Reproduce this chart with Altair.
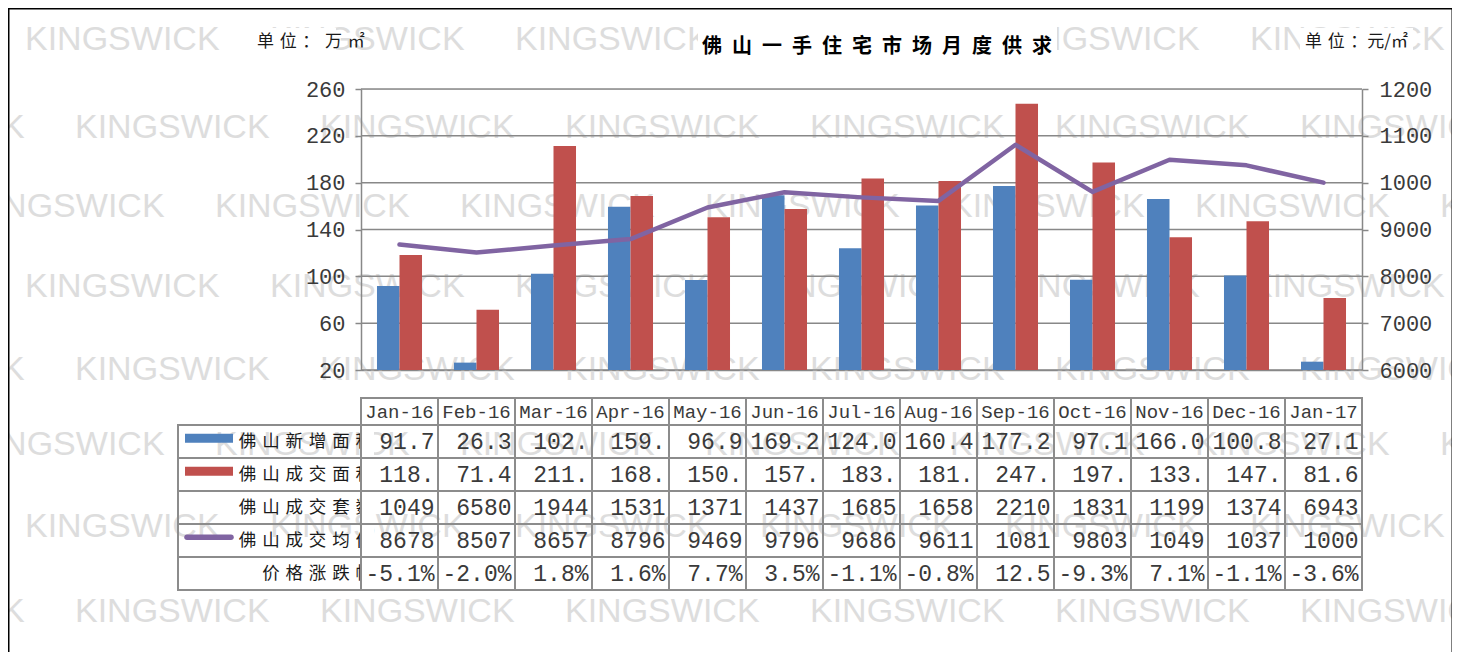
import altair as alt
import pandas as pd

# ---------------- data ----------------
months = ["Jan-16", "Feb-16", "Mar-16", "Apr-16", "May-16", "Jun-16", "Jul-16",
          "Aug-16", "Sep-16", "Oct-16", "Nov-16", "Dec-16", "Jan-17"]
new_area = [91.7, 26.3, 102.3, 159.5, 96.9, 169.2, 124.0, 160.4, 177.2, 97.1, 166.0, 100.8, 27.1]
deal_area = [118.3, 71.4, 211.3, 168.6, 150.4, 157.6, 183.5, 181.4, 247.3, 197.2, 133.4, 147.0, 81.6]
avg_price = [8678, 8507, 8657, 8796, 9469, 9796, 9686, 9611, 10810, 9803, 10490, 10370, 10000]

series_names = ["佛山新增面积", "佛山成交面积"]
row_labels = ["佛山新增面积", "佛山成交面积", "佛山成交套数", "佛山成交均价", "价格涨跌幅"]

tbl_new = ["91.7", "26.3", "102.", "159.", "96.9", "169.2", "124.0", "160.4", "177.2", "97.1", "166.0", "100.8", "27.1"]
tbl_deal = ["118.", "71.4", "211.", "168.", "150.", "157.", "183.", "181.", "247.", "197.", "133.", "147.", "81.6"]
tbl_units = ["1049", "6580", "1944", "1531", "1371", "1437", "1685", "1658", "2210", "1831", "1199", "1374", "6943"]
tbl_price = ["8678", "8507", "8657", "8796", "9469", "9796", "9686", "9611", "1081", "9803", "1049", "1037", "1000"]
tbl_change = ["-5.1%", "-2.0%", "1.8%", "1.6%", "7.7%", "3.5%", "-1.1%", "-0.8%", "12.5", "-9.3%", "7.1%", "-1.1%", "-3.6%"]

left_ticks = [20, 60, 100, 140, 180, 220, 260]
right_ticks = [6000, 7000, 8000, 9000, 10000, 11000, 12000]

title_text = "佛山一手住宅市场月度供求"
unit_left = "单位：万㎡"
unit_right = "单位：元/㎡"
watermark_text = "KINGSWICK"

# ---------------- styling / layout ----------------
BLUE, RED, PURPLE = "#4F81BD", "#C0504D", "#8064A2"
GRID, TBL, TXT, NUM = "#888888", "#8c8c8c", "#1a1a1a", "#3a3a3a"
MONO, CJK, SANS = "Liberation Mono", "Noto Sans CJK SC", "Liberation Sans"

W, H = 1001, 281
HDR_TOP, ROW_TOP, ROW_BOT = 309, 336, 501
LABEL_LEFT = -183
LABEL_RIGHT = 12

# decoration: watermark pattern (page coordinates of rows and their horizontal phase)
wm_rows_y = [40, 128, 207, 287, 370, 445, 527, 612]
wm_phase = [25, 75, -30]
wm_step = 245
ORIGIN_X, ORIGIN_Y = 361, 89


def spaced(s, sep):
    return sep.join(list(s))


rows = ["r1", "r2", "r3", "r4", "r5"]

xscale = alt.Scale(domain=months, paddingInner=0, paddingOuter=0)
xaxis = alt.Axis(labels=False, ticks=False, domain=True, domainColor=GRID,
                 domainWidth=1.5, title=None, grid=False)
X = alt.X("month:N", scale=xscale, axis=xaxis)


def rowY(band_pos=None):
    kw = {}
    if band_pos is not None:
        kw["bandPosition"] = band_pos
    return alt.Y("row:N", scale=alt.Scale(domain=rows, range=[ROW_TOP, ROW_BOT],
                                          paddingInner=0, paddingOuter=0),
                 axis=None, **kw)


# ---------------- data frames ----------------
bars_df = pd.DataFrame({
    "month": months * 2,
    "series": [series_names[0]] * len(months) + [series_names[1]] * len(months),
    "value": new_area + deal_area,
})
line_df = pd.DataFrame({"month": months, "price": avg_price})
grid_df = pd.DataFrame({"v": left_ticks})

tables = [tbl_new, tbl_deal, tbl_units, tbl_price, tbl_change]
cells_df = pd.DataFrame([
    {"month": m, "row": r, "text": t}
    for r, arr in zip(rows, tables) for m, t in zip(months, arr)
])
hdr_df = pd.DataFrame({"month": months})
labels_df = pd.DataFrame({"row": rows, "label": [spaced(s, "\u2004") for s in row_labels]})
keys_df = pd.DataFrame({"row": ["r1", "r2"], "c": [BLUE, RED]})
pkey_df = pd.DataFrame({"row": ["r4"]})

wm = []
for i, y in enumerate(wm_rows_y):
    ph = wm_phase[i % 3]
    for k in range(-1, 7):
        wm.append({"px": ph + wm_step * k - ORIGIN_X, "py": y - ORIGIN_Y, "t": watermark_text})
wm_df = pd.DataFrame(wm)
one = pd.DataFrame({"t": [0]})

# ---------------- layers ----------------
watermark = alt.Chart(wm_df).mark_text(
    font=SANS, fontSize=34, color="#dddddd", align="left", baseline="middle"
).encode(x=alt.X("px:Q", scale=None), y=alt.Y("py:Q", scale=None), text="t:N")

row_label_text = alt.Chart(labels_df).mark_text(
    font=CJK, fontSize=17.5, align="right", color=TXT
).encode(x=alt.value(LABEL_RIGHT), y=rowY(), text="label:N")

strip = alt.Chart(one).mark_rect(color="white").encode(
    x=alt.value(1), x2=alt.value(LABEL_RIGHT + 1), y=alt.value(ROW_TOP + 1), y2=alt.value(ROW_BOT - 1))

grid = alt.Chart(grid_df).mark_rule(color=GRID, strokeWidth=1.5).encode(
    y=alt.Y("v:Q", scale=alt.Scale(domain=[20, 260], nice=False, zero=False), axis=None),
    x=alt.value(0), x2=alt.value(W))

left_axis = alt.Axis(values=left_ticks, orient="left", grid=False, domain=True,
                     domainColor=GRID, domainWidth=1.5, ticks=True, tickColor=GRID,
                     tickSize=6, tickWidth=1.5, labelFont=MONO, labelFontSize=22,
                     labelColor=NUM, labelPadding=10, title=None, zindex=1)
right_axis = alt.Axis(values=right_ticks, orient="right", grid=False, domain=True,
                      domainColor=GRID, domainWidth=1.5, ticks=True, tickColor=GRID,
                      tickSize=6, tickWidth=1.5, labelFont=MONO, labelFontSize=22,
                      labelColor=NUM, labelPadding=11, title=None, format="d",
                      labelExpr="substring(datum.label, 0, 4)", zindex=1)

bars = alt.Chart(bars_df).mark_bar().encode(
    x=X,
    xOffset=alt.XOffset("series:N", scale=alt.Scale(domain=series_names,
                                                    paddingInner=0, paddingOuter=0.71)),
    y=alt.Y("value:Q", scale=alt.Scale(domain=[20, 260], nice=False, zero=False), axis=left_axis),
    y2=alt.datum(20),
    color=alt.Color("series:N", scale=alt.Scale(domain=series_names, range=[BLUE, RED]), legend=None),
)

line = alt.Chart(line_df).mark_line(
    color=PURPLE, strokeWidth=4.5, strokeCap="round", strokeJoin="round"
).encode(
    x=X,
    y=alt.Y("price:Q", scale=alt.Scale(domain=[6000, 12000], nice=False, zero=False), axis=right_axis),
)

title_box = alt.Chart(one).mark_rect(color="white").encode(
    x=alt.value(337), x2=alt.value(696), y=alt.value(-63), y2=alt.value(-25))
unit_box_l = alt.Chart(one).mark_rect(color="white").encode(
    x=alt.value(-106), x2=alt.value(-25), y=alt.value(-61), y2=alt.value(-33))
unit_box_r = alt.Chart(one).mark_rect(color="white").encode(
    x=alt.value(939), x2=alt.value(1052), y=alt.value(-61), y2=alt.value(-33))

title = alt.Chart(one).mark_text(
    font=CJK, fontSize=20, fontWeight="bold", color="black", align="center", baseline="middle"
).encode(x=alt.value(516), y=alt.value(-42), text=alt.value(spaced(title_text, "\u2002")))

unit_l = alt.Chart(one).mark_text(
    font=CJK, fontSize=17, color=TXT, align="left", baseline="middle"
).encode(x=alt.value(-104), y=alt.value(-47), text=alt.value(spaced(unit_left, "\u2004")))

unit_r = alt.Chart(one).mark_text(
    font=CJK, fontSize=17, color=TXT, align="left", baseline="middle"
).encode(x=alt.value(944), y=alt.value(-47),
         text=alt.value("单\u2004位\u2004：元/㎡"))

cell_rects = alt.Chart(cells_df).mark_rect(fillOpacity=0, stroke=TBL, strokeWidth=2).encode(
    x=X, y=rowY())
hdr_rects = alt.Chart(hdr_df).mark_rect(fillOpacity=0, stroke=TBL, strokeWidth=2).encode(
    x=X, y=alt.value(HDR_TOP), y2=alt.value(ROW_TOP))
label_rects = alt.Chart(labels_df).mark_rect(fillOpacity=0, stroke=TBL, strokeWidth=2).encode(
    x=alt.value(LABEL_LEFT), x2=alt.value(0), y=rowY())

keys = alt.Chart(keys_df).mark_rule(strokeWidth=9).encode(
    x=alt.value(-176), x2=alt.value(-128), y=rowY(0.4), color=alt.Color("c:N", scale=None))
pkey = alt.Chart(pkey_df).mark_rule(strokeWidth=5.5, strokeCap="round", color=PURPLE).encode(
    x=alt.value(-174), x2=alt.value(-130), y=rowY(0.4))

hdr_text = alt.Chart(hdr_df).mark_text(font=MONO, fontSize=19, color=NUM).encode(
    x=X, y=alt.value((HDR_TOP + ROW_TOP) / 2), text="month:N")
body_text = alt.Chart(cells_df).mark_text(
    font=MONO, fontSize=23, align="right", dx=35, color=NUM
).encode(x=X, y=rowY(), text="text:N")

frame = alt.Chart(one).mark_rect(fillOpacity=0, stroke="black", strokeWidth=3).encode(
    x=alt.value(-353), x2=alt.value(1092), y=alt.value(-81), y2=alt.value(620))

chart = alt.layer(
    watermark, row_label_text, strip, grid, bars, line,
    title_box, unit_box_l, unit_box_r, title, unit_l, unit_r,
    cell_rects, hdr_rects, label_rects, keys, pkey, hdr_text, body_text, frame,
).resolve_scale(y="independent").properties(
    width=W, height=H,
    autosize=alt.AutoSizeParams(type="none"),
    padding={"left": 353, "top": 81, "right": 90, "bottom": 282},
).configure_view(stroke="transparent").configure(background="white")

chart.save("out.html", embed_options={"renderer": "svg", "actions": False})
